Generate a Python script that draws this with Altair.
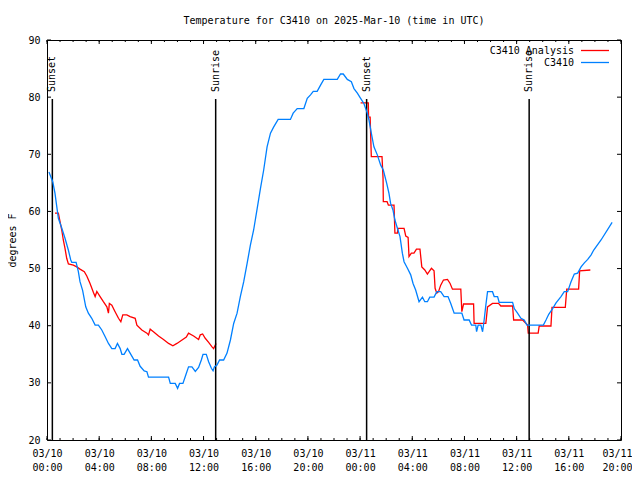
import altair as alt
import pandas as pd

FONT = "DejaVu Sans Mono"
BASE = pd.Timestamp("2025-03-10T00:00:00Z")
TITLE = "Temperature for C3410 on 2025-Mar-10 (time in UTC)"

# Observed C3410 temperatures: hours after 2025-03-10 00:00 UTC, degrees F
blue_hours = [0.15, 0.44, 0.61, 0.87, 1.13, 1.38, 1.64, 1.82, 1.90, 2.23, 2.40, 2.53, 2.73, 2.97,
              3.17, 3.43, 3.69, 3.94, 4.20, 4.45, 4.71, 4.97, 5.22, 5.40, 5.61, 5.74, 5.91, 6.17,
              6.37, 6.68, 6.94, 7.14, 7.45, 7.66, 7.78, 9.32, 9.45, 9.83, 10.01, 10.16, 10.42,
              10.60, 10.85, 11.11, 11.37, 11.62, 11.83, 11.96, 12.21, 12.39, 12.60, 12.73, 12.83,
              13.03, 13.23, 13.54, 13.80, 14.06, 14.31, 14.57, 14.82, 15.08, 15.34, 15.59, 15.84,
              16.11, 16.36, 16.61, 16.87, 17.13, 17.38, 17.72, 18.66, 18.87, 19.18, 19.69, 19.95,
              20.20, 20.41, 20.71, 20.97, 21.22, 22.25, 22.50, 22.71, 23.02, 23.33, 23.53, 23.79,
              24.04, 24.29, 24.55, 24.68, 24.86, 25.06, 25.32, 25.58, 25.78, 26.04, 26.21, 26.34,
              26.52, 26.67, 26.86, 27.06, 27.24, 27.37, 27.63, 27.88, 28.06, 28.26, 28.52, 28.78,
              28.96, 29.16, 29.34, 29.67, 29.88, 30.18, 30.44, 30.74, 30.95, 31.21, 31.80, 31.97,
              32.36, 32.54, 32.87, 32.93, 33.05, 33.26, 33.39, 33.51, 33.64, 33.77, 34.15, 34.28,
              34.54, 34.66, 35.69, 35.82, 36.07, 36.33, 36.58, 36.79, 38.05, 38.25, 38.46, 38.76,
              39.02, 39.40, 39.65, 39.91, 40.17, 40.42, 40.68, 40.94, 41.19, 41.45, 41.71, 41.91,
              42.47, 43.32]
blue_temps = [66.9, 65.2, 63.2, 58.8, 57.1, 55.3, 53.2, 51.5, 51.1, 51.1, 49.5, 47.7, 46.2, 43.3,
              42.2, 41.3, 40.1, 40.1, 39.25, 38.1, 36.9, 36.0, 36.0, 36.9, 36.0, 35.0, 35.0, 36.0,
              35.2, 34.0, 34.0, 32.9, 32.1, 31.95, 31.0, 31.0, 29.9, 29.9, 29.05, 29.9, 29.9,
              31.1, 32.8, 32.8, 32.0, 32.7, 34.0, 35.0, 35.0, 33.7, 32.55, 32.1, 32.8,
              33.1, 34.0, 34.0, 35.2, 37.5, 40.4, 42.2, 45.1, 47.7, 50.9, 54.1, 56.75,
              60.5, 64.0, 67.25, 71.3, 73.7, 74.8, 76.1, 76.1, 77.2, 78.0, 78.0, 79.8,
              80.4, 81.0, 81.0, 82.1, 83.1, 83.1, 84.05, 84.05, 83.1, 82.7, 81.5, 80.7,
              79.8, 78.9, 77.2, 76.0, 73.7, 71.3, 69.9, 68.1, 67.25, 64.9, 63.2, 61.4,
              60.25, 58.5, 57.05, 55.6, 52.7, 51.2, 50.05, 48.9, 47.4, 46.25, 44.2, 45.0,
              44.2, 44.2, 45.0, 45.0, 45.95, 45.95, 45.1, 45.1, 43.9, 42.2, 42.2, 41.0,
              41.0, 40.1, 40.1, 38.95, 40.1, 40.1, 38.95, 41.0, 43.6, 45.95, 45.95, 45.1,
              45.1, 44.1, 44.1, 43.0, 42.2, 41.3, 41.0, 40.1, 40.1, 41.0, 42.0, 43.0,
              44.0, 45.1, 45.95, 45.95, 47.7, 49.05, 49.2, 50.3, 51.0, 51.6, 52.4, 53.25,
              55.0, 58.1]

# Analysis series, two separate pieces
red1_hours = [0.61, 0.87, 1.00, 1.13, 1.25, 1.38, 1.51, 1.64, 2.02, 2.28, 2.53, 2.86, 3.05, 3.30,
              3.56, 3.69, 3.82, 4.07, 4.32, 4.59, 4.71, 4.78, 4.97, 5.22, 5.48, 5.66, 5.81, 6.12,
              6.37, 6.76, 6.89, 7.27, 7.66, 7.78, 7.91, 8.16, 8.55, 8.93, 9.32, 9.65, 9.96, 10.35,
              10.68, 10.85, 11.24, 11.62, 11.75, 11.93, 12.13, 12.39, 12.65, 12.77, 12.96]
red1_temps = [59.7, 59.7, 58.2, 56.75, 55.0, 53.55, 51.8, 50.8, 50.6, 50.3, 49.9, 49.45, 48.7, 47.4,
              45.8, 45.1, 46.0, 45.1, 44.2, 43.3, 42.2, 43.9, 43.6, 42.45, 41.3, 40.7, 41.9, 41.9,
              41.6, 41.3, 40.1, 39.25, 38.7, 38.4, 39.4, 38.95, 38.2, 37.6, 36.9, 36.5, 36.9, 37.5,
              38.0, 38.7, 38.2, 37.6, 38.4, 38.55, 37.8, 37.1, 36.3, 36.0, 36.9]
red2_hours = [24.04, 24.63, 24.65, 24.77, 24.86, 25.68, 25.76, 25.78, 26.07, 26.17, 26.60, 26.67,
              26.86, 26.90, 27.37, 27.50, 27.68, 27.75, 27.93, 28.13, 28.32, 28.59, 28.73, 28.96,
              29.16, 29.29, 29.47, 29.67, 29.75, 29.88, 30.01, 30.18, 30.39, 30.70, 30.90, 31.08,
              31.72, 31.80, 31.93, 32.70, 32.74, 33.64, 33.77, 34.15, 34.61, 34.79, 35.69, 35.77,
              36.46, 36.84, 36.89, 37.65, 37.73, 38.63, 38.71, 39.73, 39.84, 40.75, 40.83, 41.65]
red2_temps = [79.0, 79.0, 76.5, 76.5, 69.6, 69.6, 65.8, 61.7, 61.7, 61.1, 61.1, 56.2,
              56.2, 57.05, 57.05, 55.7, 55.45, 52.1, 52.7, 52.7, 53.4, 53.4, 50.3, 49.75,
              49.05, 49.45, 50.05, 49.6, 46.55, 45.7, 45.95, 47.1, 48.0, 48.1, 47.4, 46.4,
              46.4, 42.45, 43.8, 43.8, 40.4, 40.4, 43.3, 43.9, 43.9, 43.45, 43.45, 41.0,
              41.0, 40.1, 38.7, 38.7, 39.95, 39.95, 43.2, 43.2, 46.4, 46.4, 49.6, 49.75]

event_hours = [0.41, 12.93, 24.50, 36.96]
event_labels = ["Sunset", "Sunrise", "Sunset", "Sunrise"]

legend_labels = ["C3410 Analysis", "C3410"]
legend_colors = ["#ff0000", "#0080ff"]

y_ticks = [20, 30, 40, 50, 60, 70, 80, 90]
major_tick_hours = list(range(0, 45, 4))
minor_tick_hours = list(range(0, 45, 1))


def iso(hours):
    return [(BASE + pd.Timedelta(hours=h)).strftime("%Y-%m-%dT%H:%M:%SZ") for h in hours]


def dt(h):
    d = 10 + h // 24
    return alt.DateTime(year=2025, month=3, date=int(d), hours=int(h % 24), utc=True)


blue_df = pd.DataFrame({"t": iso(blue_hours), "temp": blue_temps, "i": range(len(blue_hours))})
red_df = pd.DataFrame({
    "t": iso(red1_hours) + iso(red2_hours),
    "temp": red1_temps + red2_temps,
    "seg": ["a"] * len(red1_hours) + ["b"] * len(red2_hours),
    "i": range(len(red1_hours) + len(red2_hours)),
})
ev_df = pd.DataFrame({"t": iso(event_hours), "label": event_labels})
major_df = pd.DataFrame({"t": iso(major_tick_hours)})
minor_df = pd.DataFrame({"t": iso(minor_tick_hours)})
ytick_df = pd.DataFrame({"temp": y_ticks})
one = pd.DataFrame({"a": [0]})

x_scale = alt.Scale(type="utc", domain=[dt(0), dt(44)], nice=False)
y_scale = alt.Scale(domain=[20, 90], nice=False, zero=False)

last_ms = int((BASE + pd.Timedelta(hours=44)).value // 10**6)
x_axis = alt.Axis(
    values=[dt(h) for h in major_tick_hours],
    labelExpr="[utcFormat(datum.value, '%m/%d'), utcFormat(datum.value, '%H:%M')]",
    labelOffset={"condition": {"test": f"+datum.value >= {last_ms}", "value": -4}, "value": 0},
    ticks=False, tickSize=0, domain=False, grid=False,
    labelFont=FONT, labelFontSize=10, labelColor="black",
    labelPadding=8, labelLineHeight=14, labelFlush=False, labelOverlap=False,
    labelBaseline="top", title=None,
)
y_axis = alt.Axis(
    values=y_ticks, ticks=False, tickSize=0, domain=False, grid=False,
    labelFont=FONT, labelFontSize=10, labelColor="black", labelPadding=7,
    labelFlush=False, title="degrees F", titleFont=FONT, titleFontSize=10,
    titleFontWeight="normal", titleColor="black", titlePadding=10,
)

X = lambda: alt.X("t:T", scale=x_scale, axis=x_axis)
Y = lambda: alt.Y("temp:Q", scale=y_scale, axis=y_axis)

title_mark = alt.Chart(one).mark_text(
    align="center", baseline="alphabetic", font=FONT, fontSize=10, color="black", text=TITLE
).encode(x=alt.value(287), y=alt.value(-16.5))

ev_rules = alt.Chart(ev_df).mark_rule(color="black", strokeWidth=1.5).encode(
    x=X(), y=alt.value(400), y2=alt.value(59))
ev_text = alt.Chart(ev_df).mark_text(
    angle=270, align="left", baseline="middle", font=FONT, fontSize=10, color="black"
).encode(x=X(), y=alt.value(52), text="label:N")

red = alt.Chart(red_df).mark_line(color="#ff0000", strokeWidth=1.3).encode(
    x=X(), y=Y(), detail="seg:N", order="i:Q")
blue = alt.Chart(blue_df).mark_line(color="#0080ff", strokeWidth=1.3).encode(
    x=X(), y=Y(), order="i:Q")

maj_b = alt.Chart(major_df).mark_rule(color="black").encode(x=X(), y=alt.value(400), y2=alt.value(396))
maj_t = alt.Chart(major_df).mark_rule(color="black").encode(x=X(), y=alt.value(0), y2=alt.value(4))
min_b = alt.Chart(minor_df).mark_rule(color="black").encode(x=X(), y=alt.value(400), y2=alt.value(398))
min_t = alt.Chart(minor_df).mark_rule(color="black").encode(x=X(), y=alt.value(0), y2=alt.value(2))
yt_l = alt.Chart(ytick_df).mark_rule(color="black").encode(y=Y(), x=alt.value(0), x2=alt.value(4))
yt_r = alt.Chart(ytick_df).mark_rule(color="black").encode(y=Y(), x=alt.value(570), x2=alt.value(574))

legend_layers = []
for k, (lab, col) in enumerate(zip(legend_labels, legend_colors)):
    ly = 10.5 + 12 * k
    legend_layers.append(alt.Chart(one).mark_text(
        align="right", baseline="middle", font=FONT, fontSize=10, color="black", text=lab
    ).encode(x=alt.value(527), y=alt.value(ly)))
    legend_layers.append(alt.Chart(one).mark_rule(color=col, strokeWidth=1.3).encode(
        x=alt.value(534), x2=alt.value(562), y=alt.value(ly)))

chart = alt.layer(
    red, ev_rules, ev_text, blue, maj_b, maj_t, min_b, min_t, yt_l, yt_r,
    title_mark, *legend_layers
).properties(
    width=574, height=400,
    autosize=alt.AutoSizeParams(type="none"),
    padding={"left": 39, "top": 32, "right": 11, "bottom": 31},
    background="white",
).configure_view(stroke="black", strokeWidth=1)

chart.save("out.html", embed_options={"renderer": "svg", "actions": False})
